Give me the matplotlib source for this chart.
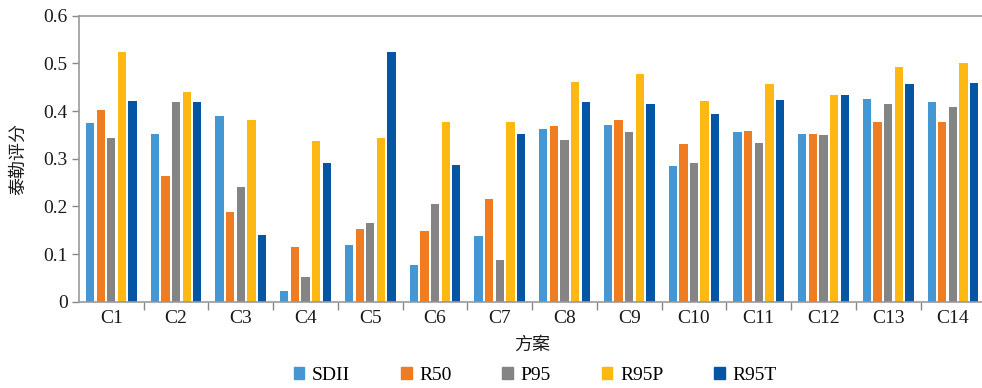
import numpy as np
import matplotlib.pyplot as plt
from matplotlib.patches import Patch

# 方案 C1..C14
schemes = ["C1", "C2", "C3", "C4", "C5", "C6", "C7",
           "C8", "C9", "C10", "C11", "C12", "C13", "C14"]

sdii = [0.375, 0.352, 0.390, 0.023, 0.120, 0.078, 0.138,
        0.362, 0.371, 0.285, 0.356, 0.352, 0.425, 0.418]
r50 = [0.402, 0.263, 0.188, 0.114, 0.152, 0.148, 0.216,
       0.369, 0.381, 0.331, 0.359, 0.352, 0.378, 0.378]
p95 = [0.344, 0.418, 0.240, 0.052, 0.166, 0.204, 0.088,
       0.340, 0.356, 0.290, 0.334, 0.349, 0.415, 0.409]
r95p = [0.523, 0.440, 0.381, 0.337, 0.344, 0.378, 0.378,
        0.462, 0.478, 0.421, 0.456, 0.433, 0.492, 0.501]
r95t = [0.421, 0.418, 0.141, 0.292, 0.523, 0.287, 0.352,
        0.418, 0.415, 0.393, 0.424, 0.433, 0.456, 0.459]

series = {"SDII": sdii, "R50": r50, "P95": p95, "R95P": r95p, "R95T": r95t}
colors = ["#4597d4", "#f07c22", "#848484", "#fdb813", "#0455a4"]

plt.rcParams['font.family'] = 'serif'
plt.rcParams['font.serif'] = ['Liberation Serif']
serif = 'Liberation Serif'
cjk = 'Noto Sans CJK SC'

fig = plt.figure(figsize=(9.82, 3.88), dpi=100)
ax = fig.add_axes([0.0804, 0.2224, 0.923, 0.737])

x = np.arange(len(schemes))
pitch = 0.164
width = 0.128
for i, (name, vals) in enumerate(series.items()):
    ax.bar(x + (i - 2) * pitch, vals, width, color=colors[i], label=name)

ax.set_xlim(-0.5, len(schemes) - 0.5)
ax.set_ylim(0, 0.6)
ax.set_yticks([0, 0.1, 0.2, 0.3, 0.4, 0.5, 0.6])
ax.set_yticklabels(["0", "0.1", "0.2", "0.3", "0.4", "0.5", "0.6"],
                   fontsize=14, fontfamily=serif, color='#1a1a1a')

# category labels centred, ticks between groups
ax.set_xticks(x)
ax.set_xticklabels(schemes, fontsize=14, fontfamily=serif, color='#1a1a1a')
ax.tick_params(axis='x', length=0, pad=6)
ax.set_xticks(np.arange(len(schemes)) + 0.5, minor=True)
ax.tick_params(axis='x', which='minor', length=6, color='#888888', width=1)
ax.tick_params(axis='y', length=5, color='#888888', width=1, pad=3)

ax.spines["right"].set_visible(False)
for s in ["left", "bottom", "top"]:
    ax.spines[s].set_color('#999999')
    ax.spines[s].set_linewidth(1.2)

ax.set_ylabel("泰勒评分", fontfamily=cjk, fontsize=13, labelpad=12, color='#1a1a1a')
ax.set_xlabel("方案", fontfamily=cjk, fontsize=13, labelpad=6, color='#1a1a1a')

handles = [Patch(color=c, label=n) for n, c in zip(series.keys(), colors)]
fig.legend(handles=handles, loc='center', bbox_to_anchor=(0.545, 0.033), ncol=5,
           frameon=False, prop={'family': serif, 'size': 14},
           handlelength=0.55, handleheight=0.55,
           handletextpad=0.4, columnspacing=2.6)

fig.savefig("out.png", dpi=100)
